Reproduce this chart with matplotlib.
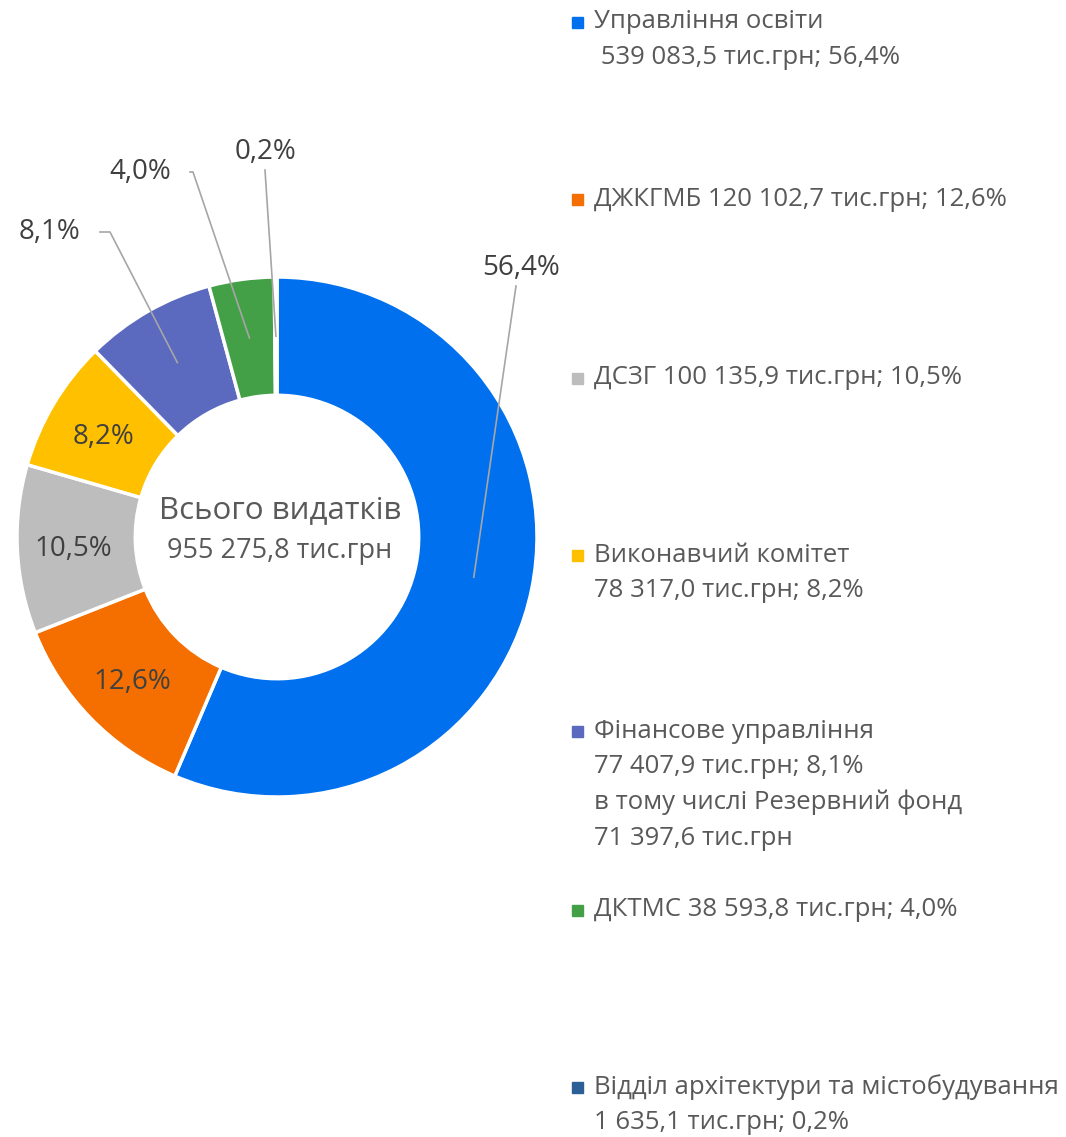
import numpy as np
import matplotlib
matplotlib.use("Agg")
import matplotlib.pyplot as plt

plt.rcParams['font.family'] = ['Open Sans', 'DejaVu Sans']

names = ["Управління освіти", "ДЖКГМБ", "ДСЗГ", "Виконавчий комітет",
         "Фінансове управління", "ДКТМС", "Відділ архітектури та містобудування"]
amounts = [539083.5, 120102.7, 100135.9, 78317.0, 77407.9, 38593.8, 1635.1]
shares = [56.4, 12.6, 10.5, 8.2, 8.1, 4.0, 0.2]
colors = ["#0070EE", "#F46F00", "#BDBDBD", "#FFC000", "#5B69BF", "#43A046", "#2D5F97"]
legend_texts = [
    "Управління освіти\n 539 083,5 тис.грн; 56,4%",
    "ДЖКГМБ 120 102,7 тис.грн; 12,6%",
    "ДСЗГ 100 135,9 тис.грн; 10,5%",
    "Виконавчий комітет\n78 317,0 тис.грн; 8,2%",
    "Фінансове управління\n77 407,9 тис.грн; 8,1%\nв тому числі Резервний фонд\n71 397,6 тис.грн",
    "ДКТМС 38 593,8 тис.грн; 4,0%",
    "Відділ архітектури та містобудування\n1 635,1 тис.грн; 0,2%",
]
total_title = "Всього видатків"
total_value = "955 275,8 тис.грн"

W, H = 1066, 1137
fig = plt.figure(figsize=(W / 100, H / 100), dpi=100)

cx, cy, R = 277, 537, 260
ax = fig.add_axes([(cx - R) / W, (H - cy - R) / H, 2 * R / W, 2 * R / H])

width = 0.455
wedges, _ = ax.pie(amounts, colors=colors, startangle=90, counterclock=False,
                   radius=1.0, wedgeprops=dict(width=width, edgecolor='white', linewidth=2.5))
ax.set_xlim(-1, 1)
ax.set_ylim(-1, 1)
ax.set_aspect('equal')
ax.axis('off')

def px2d(px, py):
    return ((px - cx) / R, (cy - py) / R)

lab_color = "#404040"
line_color = "#A6A6A6"
fs_lab = 20
rmid = 1 - width / 2
inside = {1: (132, 682), 2: (73, 549), 3: (104, 437)}
# outside labels: index -> (label pos px, elbow px or None)
outside = {0: ((521, 268), None), 4: ((50, 232), (110, 232)),
           5: ((140, 172), (193, 172)), 6: ((265, 152), None)}
for i, w in enumerate(wedges):
    ang = np.deg2rad((w.theta1 + w.theta2) / 2)
    txt = f"{shares[i]:.1f}%".replace('.', ',')
    if i in inside:
        x, y = px2d(*inside[i])
        ax.text(x, y, txt, ha='center', va='center', fontsize=fs_lab, color=lab_color)
    else:
        (lx, ly), elbow = outside[i]
        x, y = px2d(lx, ly)
        ax.text(x, y, txt, ha='center', va='center', fontsize=fs_lab, color=lab_color,
                clip_on=False)
        ax0 = rmid * np.cos(ang)
        ay0 = rmid * np.sin(ang)
        if elbow is None:
            sx, sy = px2d(lx - 5 if i == 0 else lx, ly + 18)
            pts = [(sx, sy), (ax0, ay0)]
        else:
            sx, sy = px2d(lx + 50, ly)
            ex, ey = px2d(*elbow)
            pts = [(sx, sy), (ex, ey), (ax0, ay0)]
        xs, ys = zip(*pts)
        ax.plot(xs, ys, color=line_color, lw=1.2, clip_on=False)

tx, ty = px2d(280, 510)
ax.text(tx, ty, total_title, ha='center', va='center', fontsize=22.5, color="#595959")
tx, ty = px2d(280, 551)
ax.text(tx, ty, total_value, ha='center', va='center', fontsize=19.5, color="#595959")

# legend
leg_y = [22, 199, 378, 555, 731, 910, 1087]
line_h = 35.8
for i, (t, c) in enumerate(zip(legend_texts, colors)):
    y0 = leg_y[i]
    fig.patches.append(plt.Rectangle(((572) / W, 1 - (y0 + 6) / H), 11 / W, 11 / H,
                                     transform=fig.transFigure, color=c, figure=fig))
    for j, line in enumerate(t.split("\n")):
        fig.text(594 / W, 1 - (y0 + j * line_h) / H, line, ha='left', va='center',
                 fontsize=18.5, color="#595959")

fig.savefig("out.png", dpi=100, facecolor='white')
